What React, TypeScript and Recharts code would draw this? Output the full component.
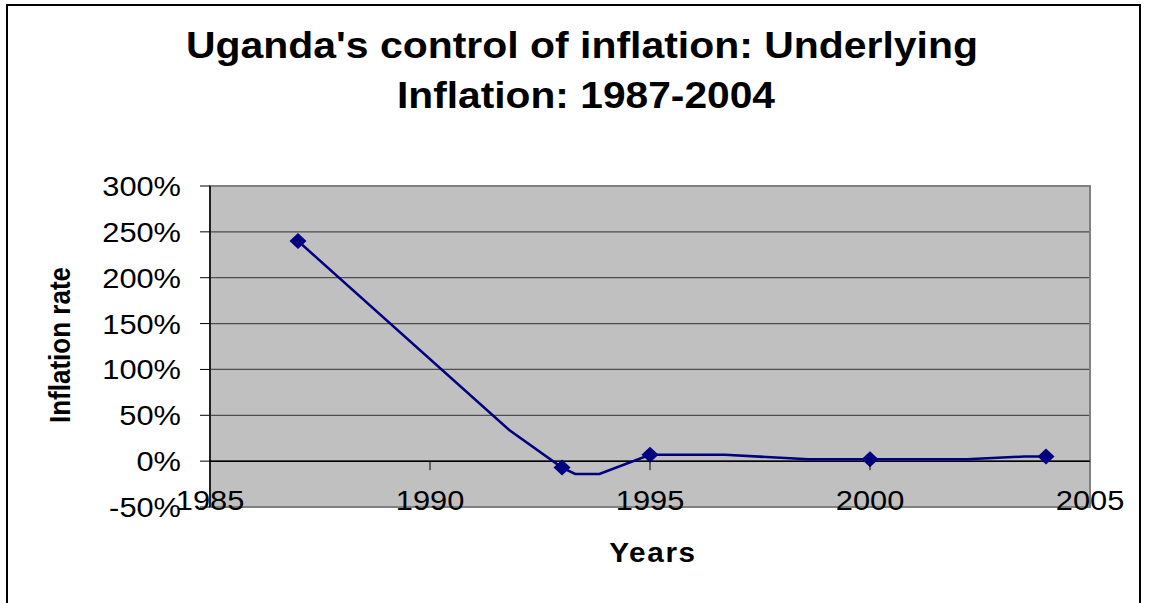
import React from 'react';
import {
  ComposedChart,
  Line,
  Scatter,
  XAxis,
  YAxis,
  CartesianGrid,
  ReferenceLine,
  ReferenceArea,
} from 'recharts';

// ---- data ----
const lineYears = [1987, 1991.8, 1993, 1993.3, 1993.85, 1995, 1996.7, 1998.6, 2002.2, 2003.5, 2004];
const lineValues = [240, 34, -7, -14, -14, 7, 7, 2, 2, 5, 5];
const markerYears = [1987, 1993, 1995, 2000, 2004];
const markerValues = [240, -7, 7, 2, 5];
const xTicks = [1985, 1990, 1995, 2000, 2005];
const yTicks = [-50, 0, 50, 100, 150, 200, 250, 300];
const titleLines = ["Uganda's control of inflation: Underlying", 'Inflation: 1987-2004'];
const xTitle = 'Years';
const yTitle = 'Inflation rate';

const lineData = lineYears.map((year, i) => ({ year, value: lineValues[i] }));
const markerData = markerYears.map((year, i) => ({ year, value: markerValues[i] }));

// ---- layout ----
const W = 1152;
const H = 603;
const PLOT_LEFT = 210;
const PLOT_RIGHT = 1090;
const PLOT_TOP = 186;
const PLOT_BOTTOM = 507;
const PLOT_H = PLOT_BOTTOM - PLOT_TOP;
const Y_MIN = -50;
const Y_MAX = 300;
const YAXIS_W = 100;
const XAXIS_H = 30;
const FONT = '"Liberation Sans", Arial, sans-serif';
const NAVY = '#000080';

const XTick = (props: any) => {
  const { x, y, payload } = props;
  const zeroY = y - (PLOT_H * (0 - Y_MIN)) / (Y_MAX - Y_MIN);
  const showMark = payload.value !== xTicks[0] && payload.value !== xTicks[xTicks.length - 1];
  return (
    <g>
      {showMark && <line x1={x} x2={x} y1={zeroY} y2={zeroY + 9} stroke="#000" strokeWidth={1} />}
      <text
        transform={`translate(${x},${y + 3}) scale(1.1,1)`}
        textAnchor="middle"
        fontSize={28}
        fontFamily={FONT}
        fill="#000"
      >
        {payload.value}
      </text>
    </g>
  );
};

const YTick = (props: any) => {
  const { x, y, payload } = props;
  return (
    <text
      transform={`translate(${x},${y + 10}) scale(1.1,1)`}
      textAnchor="end"
      fontSize={28}
      fontFamily={FONT}
      fill="#000"
    >
      {`${payload.value}%`}
    </text>
  );
};

const Diamond = (props: any) => {
  const { cx, cy } = props;
  if (cx == null || cy == null) return null;
  return (
    <polygon
      points={`${cx},${cy - 8} ${cx + 8.5},${cy} ${cx},${cy + 8} ${cx - 8.5},${cy}`}
      fill={NAVY}
    />
  );
};

export default function App() {
  return (
    <div style={{ position: 'absolute', left: 0, top: 0, width: W, height: H, background: '#fff', overflow: 'hidden' }}>
      <ComposedChart
        width={W}
        height={H}
        margin={{
          top: PLOT_TOP,
          left: PLOT_LEFT - YAXIS_W,
          right: W - PLOT_RIGHT,
          bottom: H - PLOT_BOTTOM - XAXIS_H,
        }}
      >
        <CartesianGrid
          vertical={false}
          stroke="#4d4d4d"
          strokeWidth={1.2}
          fill="#C0C0C0"
          fillOpacity={1}
        />
        <ReferenceArea
          x1={1985}
          x2={2005}
          y1={-50}
          y2={300}
          fill="none"
          stroke="#808080"
          strokeWidth={2}
          ifOverflow="visible"
        />
        <XAxis
          type="number"
          dataKey="year"
          domain={[1985, 2005]}
          ticks={xTicks}
          allowDataOverflow
          axisLine={false}
          tickLine={false}
          tickSize={0}
          tickMargin={0}
          height={XAXIS_H}
          tick={<XTick />}
          interval={0}
        />
        <YAxis
          type="number"
          domain={[Y_MIN, Y_MAX]}
          ticks={yTicks}
          width={YAXIS_W}
          axisLine={{ stroke: '#000', strokeWidth: 1.5 }}
          tickLine={{ stroke: '#000', strokeWidth: 1 }}
          tickSize={10}
          tickMargin={19}
          tick={<YTick />}
          interval={0}
        />
        <ReferenceLine y={0} stroke="#000" strokeWidth={1.5} />
        <Line
          data={lineData}
          dataKey="value"
          type="linear"
          stroke={NAVY}
          strokeWidth={2.5}
          dot={false}
          activeDot={false}
          isAnimationActive={false}
        />
        <Scatter
          data={markerData}
          dataKey="value"
          shape={<Diamond />}
          fill={NAVY}
          isAnimationActive={false}
        />
      </ComposedChart>
      <svg
        width={W}
        height={H}
        style={{ position: 'absolute', left: 0, top: 0, pointerEvents: 'none' }}
      >
        <rect x={7} y={5} width={1133} height={640} fill="none" stroke="#000" strokeWidth={2} />
        <text
          x={582}
          y={58}
          textAnchor="middle"
          fontSize={36}
          fontWeight="bold"
          fontFamily={FONT}
          textLength={792}
          lengthAdjust="spacingAndGlyphs"
          fill="#000"
        >
          {titleLines[0]}
        </text>
        <text
          x={586}
          y={108}
          textAnchor="middle"
          fontSize={36}
          fontWeight="bold"
          fontFamily={FONT}
          textLength={378}
          lengthAdjust="spacingAndGlyphs"
          fill="#000"
        >
          {titleLines[1]}
        </text>
        <text
          transform="translate(70,345) scale(1.1,1) rotate(-90)"
          textAnchor="middle"
          fontSize={26}
          fontWeight="bold"
          fontFamily={FONT}
          fill="#000"
        >
          {yTitle}
        </text>
        <text
          transform="translate(653,562) scale(1.1,1)"
          textAnchor="middle"
          fontSize={27}
          fontWeight="bold"
          fontFamily={FONT}
          letterSpacing={1.5}
          fill="#000"
        >
          {xTitle}
        </text>
      </svg>
    </div>
  );
}
